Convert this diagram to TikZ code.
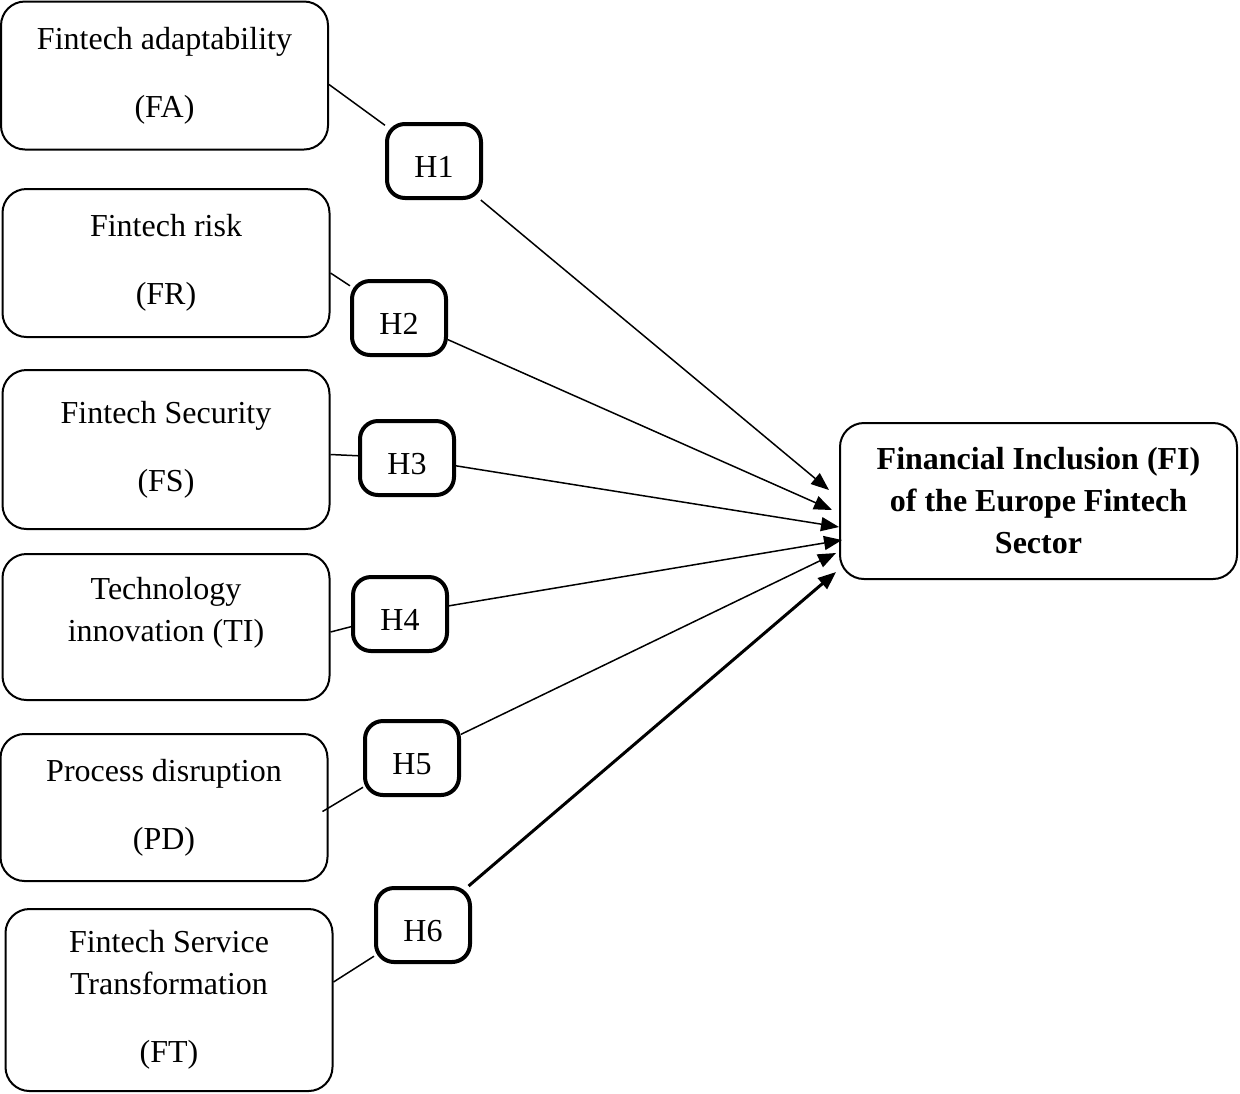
\documentclass[tikz,border=0pt]{standalone}
\usepackage{fontspec}
\setmainfont{Liberation Serif}
\usetikzlibrary{arrows.meta}

\begin{document}
\begin{tikzpicture}[x=0.5pt,y=-0.5pt,
    font=\fontsize{16}{21}\selectfont,
    >={Triangle[length=9pt,width=7pt]},
    factor/.style={draw,line width=1pt,rounded corners=12pt,minimum width=163.5pt,align=center,inner sep=0pt},
    hyp/.style={draw,line width=2pt,rounded corners=9pt,minimum width=47pt,minimum height=37pt,inner sep=0pt,text height=16.5pt,text depth=0pt},
    link/.style={line width=0.75pt}]
            \useasboundingbox (0,0) rectangle (1240,1093);

            \node[factor,minimum height=74pt] (FA) at (164.5,75.5) {Fintech adaptability\\[13pt](FA)};
            \node[factor,minimum height=74pt] (FR) at (166,263) {Fintech risk\\[13pt](FR)};
            \node[factor,minimum height=79.5pt] (FS) at (166,449.5) {Fintech Security\\[13pt](FS)};
            \node[factor,minimum height=73pt] (TI) at (166,627) {};
            \node (TItext) at ([yshift=7pt]TI.center) [align=center] {Technology\\innovation (TI)};
            \node[factor,minimum height=73.5pt] (PD) at (164,807.5) {Process disruption\\[13pt](PD)};
            \node[factor,minimum height=91pt] (FT) at (169,1000) {Fintech Service\\Transformation\\[13pt](FT)};
            \node[factor,minimum width=198.5pt,minimum height=78pt,font=\fontsize{16}{21}\selectfont\bfseries] (FI) at (1038.5,501) {Financial Inclusion (FI)\\of the Europe Fintech\\Sector};

            \node[hyp] (H1) at (434,161) {H1};
            \node[hyp] (H2) at (399,318) {H2};
            \node[hyp] (H3) at (407,458) {H3};
            \node[hyp] (H4) at (400,614) {H4};
            \node[hyp] (H5) at (412,758) {H5};
            \node[hyp] (H6) at (423,925) {H6};

            \draw[link] ([yshift=-4.5pt]FA.east) to (H1); \draw[link] ([yshift=-5pt]FR.east) to (H2); \draw[link] ([yshift=-2.5pt]FS.east) to (H3);
            \draw[link] ([yshift=-2.5pt]TI.east) to (H4); \draw[link] ([xshift=-3pt,yshift=-2pt]PD.east) to (H5); \draw[link] ([yshift=9pt]FT.east) to (H6);

            \draw[link,->] (H1) to ([xshift=-5pt,yshift=5.5pt]FI.west); \draw[link,->] (H2) to ([xshift=-3.5pt,yshift=-4.5pt]FI.west); \draw[link,->] (H3) to ([yshift=-13pt]FI.west);
            \draw[link,->] (H4) to ([xshift=1.5pt,yshift=-19.5pt]FI.west); \draw[link,->] (H5) to ([xshift=-1.5pt,yshift=-26pt]FI.west); \draw[link,->,line width=1.5pt] (H6) to ([xshift=-1.5pt,yshift=-35.5pt]FI.west);
        \end{tikzpicture}
\end{document}
